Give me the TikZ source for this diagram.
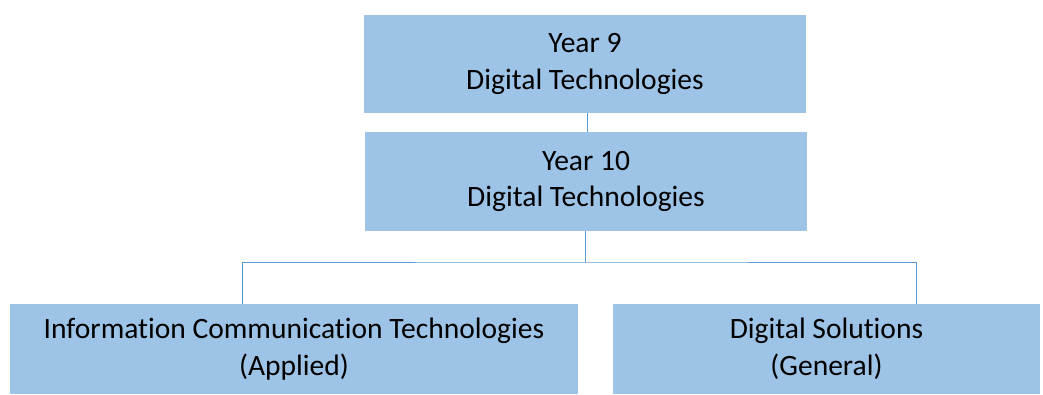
\documentclass[tikz,border=0pt]{standalone}
\usepackage{fontspec}
\setmainfont[RawFeature=-liga]{Carlito}
\definecolor{boxblue}{HTML}{9DC3E6}
\definecolor{lineblue}{HTML}{5B9BD5}
\tikzset{
  course/.style={fill=boxblue, draw=none, align=center, inner sep=0pt,
    font=\fontsize{21}{26}\selectfont},
  link/.style={draw=lineblue, line width=0.6pt}
}

\begin{document}
\begin{tikzpicture}[x=0.025cm, y=-0.025cm]
            \useasboundingbox (0,0) rectangle (1043,394);

            \node[course, minimum width=442*0.025cm, minimum height=98*0.025cm] (y9) at (585,64) {Year 9\\Digital Technologies};
            \node[course, minimum width=442*0.025cm, minimum height=99*0.025cm] (y10) at (586,181.5) {Year 10\\Digital Technologies};
            \node[course, minimum width=568*0.025cm, minimum height=90*0.025cm] (ict) at (294,349) {Information Communication Technologies\\(Applied)};
            \node[course, minimum width=427*0.025cm, minimum height=90*0.025cm] (ds) at (826.5,349) {Digital Solutions\\(General)};

            \coordinate (bus) at (585,262);
            \coordinate (ictTop) at (242,304);
            \coordinate (dsTop) at (916,304);

            \draw[link] (y9.south -| 587,0) -- (y10.north -| 587,0);
            \draw[link] (y10.south -| bus) -- (bus);
            \draw[link] (ictTop) |- (bus) -| (dsTop);
        \end{tikzpicture}
\end{document}
